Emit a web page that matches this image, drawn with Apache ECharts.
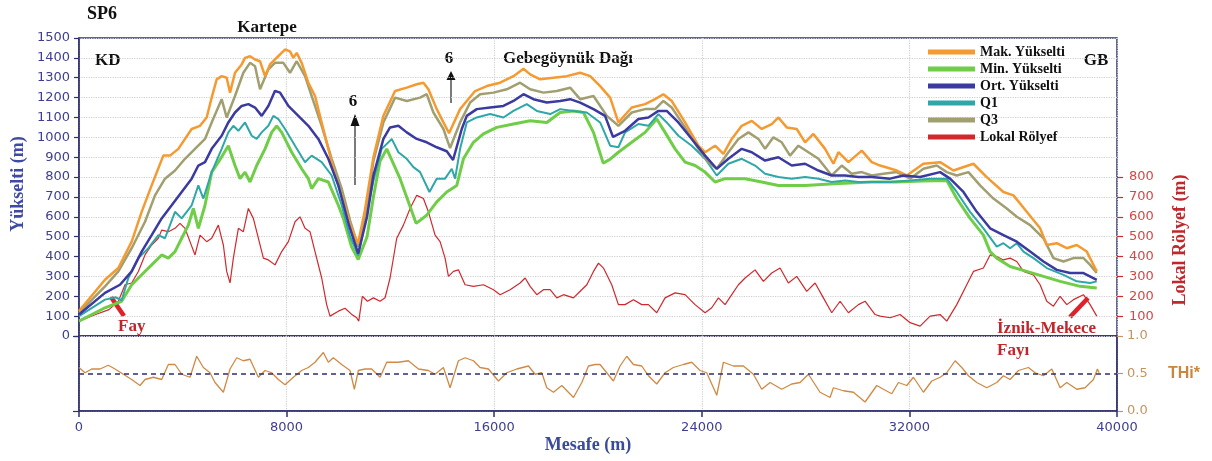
<!DOCTYPE html>
<html>
<head>
<meta charset="utf-8">
<script src="https://cdn.jsdelivr.net/npm/echarts@6/dist/echarts.min.js"></script>
<style>
html,body{margin:0;padding:0;background:#fff;}
#chart{width:1212px;height:461px;}
</style>
</head>
<body>
<div id="chart"></div>
<script>
// ---------- DATA (distance m, value) ----------
const xTicks = [0, 8000, 16000, 24000, 32000, 40000];
const reliefTicks = [100, 200, 300, 400, 500, 600, 700, 800];
const thiTicks = [0, 0.5, 1.0];
const seriesNames = ['Mak. Yükselti', 'Min. Yükselti', 'Ort. Yükselti', 'Q1', 'Q3', 'Lokal Rölyef'];

const maxElev = [[0,125],[1002,283],[1516,342],[2030,475],[2415,625],[2800,758],[3250,908],[3507,908],[3828,942],[4085,992],[4342,1042],[4663,1058],[4920,1100],[5113,1200],[5306,1292],[5498,1308],[5691,1300],[5820,1225],[6012,1325],[6269,1367],[6398,1400],[6591,1408],[6784,1392],[6976,1383],[7169,1308],[7361,1367],[7554,1392],[7747,1417],[7939,1442],[8132,1433],[8260,1400],[8389,1425],[8581,1375],[8838,1275],[9095,1208],[9352,1075],[9609,942],[9866,808],[10123,708],[10450,560],[10750,465],[11000,620],[11345,900],[11730,1108],[12180,1233],[12630,1250],[13015,1267],[13272,1275],[13465,1242],[13786,1142],[14043,1075],[14260,1021],[14686,1142],[14943,1183],[15264,1233],[15714,1258],[16228,1275],[16742,1308],[17128,1345],[17385,1317],[17770,1292],[18284,1300],[18798,1308],[19312,1325],[19697,1308],[20083,1258],[20468,1200],[20786,1075],[21300,1150],[21814,1167],[22199,1192],[22520,1217],[22841,1183],[23355,1075],[23869,958],[24126,925],[24512,958],[24833,917],[25154,992],[25539,1058],[25925,1083],[26310,1042],[26695,1067],[26952,1100],[27273,1050],[27659,1042],[27980,975],[28301,1017],[28751,942],[29072,867],[29265,925],[29650,875],[30164,933],[30549,875],[30871,858],[31513,833],[31898,808],[32540,867],[33183,875],[33697,833],[34467,867],[34981,800],[35623,725],[36009,708],[36523,625],[37037,542],[37294,458],[37679,467],[38064,442],[38450,458],[38835,425],[39220,325]];

const minElev = [[0,75],[1002,142],[1644,175],[2030,258],[2415,308],[2800,358],[3186,408],[3443,392],[3700,425],[3957,492],[4214,558],[4406,642],[4599,542],[4856,658],[5113,825],[5370,875],[5755,958],[6012,858],[6205,792],[6398,825],[6591,775],[6848,858],[7169,942],[7425,1025],[7618,1058],[7811,1025],[8196,925],[8581,842],[8838,792],[8966,742],[9223,792],[9609,775],[9994,658],[10187,592],[10500,450],[10760,385],[11100,500],[11345,700],[11600,880],[11859,942],[12373,792],[12990,567],[13400,608],[13786,675],[14172,725],[14557,758],[14814,892],[15200,975],[15585,1017],[16099,1050],[16742,1067],[17385,1083],[18027,1075],[18541,1125],[19055,1133],[19440,1125],[19826,1025],[20200,870],[20468,890],[20786,925],[21300,975],[21814,1025],[22264,1092],[22584,1025],[22970,942],[23355,875],[23741,858],[24126,825],[24512,775],[24897,792],[25668,792],[26310,775],[26952,758],[27980,758],[29265,767],[30549,775],[31500,775],[32500,780],[33440,783],[33825,692],[34339,592],[34852,508],[35110,425],[35366,392],[35880,350],[36523,325],[37166,300],[37808,275],[38579,250],[39220,242]];

const meanElev = [[0,108],[1002,217],[1580,258],[2030,325],[2415,425],[2800,508],[3186,592],[3571,658],[3957,725],[4342,792],[4599,858],[4856,875],[5113,942],[5498,1008],[5755,1075],[6012,1125],[6269,1158],[6526,1167],[6784,1150],[7040,1108],[7297,1158],[7554,1234],[7747,1225],[8068,1158],[8453,1108],[8838,1058],[9223,992],[9609,892],[9994,758],[10400,560],[10760,415],[11100,600],[11345,808],[11730,992],[11987,1050],[12308,1058],[12630,1025],[13015,992],[13400,975],[13786,950],[14172,930],[14414,886],[14750,1042],[14943,1108],[15328,1142],[15842,1150],[16356,1158],[16742,1183],[17128,1217],[17513,1192],[18027,1175],[18541,1183],[18927,1192],[19312,1175],[19826,1142],[20272,1108],[20580,1002],[21043,1033],[21557,1092],[21943,1100],[22328,1133],[22649,1133],[23098,1075],[23612,992],[24126,908],[24576,842],[25025,892],[25539,942],[25925,925],[26438,883],[26952,900],[27466,858],[27980,867],[28493,833],[29007,808],[29522,808],[30035,800],[30549,800],[31256,792],[31770,808],[32412,800],[33183,825],[33568,792],[34082,725],[34596,625],[35110,542],[35623,508],[36138,475],[36652,425],[37166,375],[37680,333],[38193,317],[38707,317],[39220,283]];

const q1Elev = [[0,100],[1002,183],[1400,195],[1644,180],[1901,292],[2287,392],[2672,442],[3058,508],[3314,492],[3700,625],[3957,592],[4342,658],[4599,758],[4792,692],[5113,825],[5498,942],[5755,1025],[5948,1058],[6141,1033],[6398,1075],[6655,1008],[6848,992],[7040,1025],[7297,1058],[7490,1108],[7682,1092],[7939,1042],[8325,958],[8710,875],[8966,908],[9352,875],[9737,808],[10123,658],[10450,500],[10760,405],[11345,780],[11666,942],[12051,992],[12308,925],[12630,892],[12887,850],[13144,825],[13504,725],[13786,792],[14107,792],[14365,842],[14493,792],[14686,942],[14943,1075],[15328,1100],[15842,1117],[16356,1100],[16742,1133],[17256,1167],[17642,1133],[18156,1117],[18541,1142],[19055,1133],[19569,1125],[20083,1075],[20468,958],[20786,950],[21043,1025],[21557,1067],[21943,1058],[22328,1117],[22649,1075],[23098,1008],[23612,958],[24126,892],[24576,808],[25025,867],[25539,892],[26053,858],[26438,817],[26952,800],[27466,792],[27980,800],[28493,792],[29007,775],[29522,783],[30035,775],[30549,775],[31256,775],[32027,783],[32798,792],[33440,792],[33825,725],[34339,625],[34852,542],[35366,450],[35623,467],[35880,442],[36138,467],[36395,425],[36780,392],[37294,342],[37937,308],[38450,275],[38964,267],[39220,275]];

const q3Elev = [[0,117],[1002,250],[1516,325],[2030,442],[2544,575],[2929,708],[3314,792],[3700,833],[4085,892],[4470,942],[4856,992],[5113,1075],[5498,1192],[5691,1100],[6012,1208],[6333,1325],[6591,1375],[6784,1358],[6976,1242],[7297,1342],[7554,1375],[7875,1375],[8132,1325],[8389,1383],[8710,1308],[8966,1208],[9352,1058],[9737,892],[10123,742],[10450,580],[10760,450],[11100,640],[11345,880],[11730,1075],[12180,1200],[12630,1183],[13144,1200],[13400,1217],[13657,1125],[14043,1042],[14300,946],[14686,1075],[15071,1175],[15457,1217],[15971,1225],[16485,1242],[16998,1275],[17385,1242],[17899,1225],[18413,1233],[18927,1250],[19312,1192],[19826,1208],[20340,1108],[20786,1058],[21300,1125],[21814,1142],[22199,1142],[22520,1183],[22841,1150],[23355,1050],[23869,942],[24255,875],[24576,842],[25025,925],[25411,992],[25796,1025],[26181,992],[26438,942],[26759,1000],[27080,975],[27401,908],[27723,958],[28108,925],[28493,892],[29007,808],[29393,858],[29778,817],[30164,825],[30549,808],[30999,817],[31513,825],[32027,792],[32540,842],[33054,858],[33440,825],[33825,808],[34275,825],[34724,758],[35238,692],[35752,642],[36138,600],[36652,558],[37166,492],[37551,392],[37937,375],[38322,392],[38707,392],[38964,358],[39220,317]];

const localRelief = [[0,75],[642,108],[1156,133],[1516,175],[1773,258],[2030,267],[2287,325],[2544,408],[2800,458],[3058,492],[3186,533],[3443,525],[3700,542],[3893,567],[4085,542],[4278,475],[4470,408],[4663,508],[4920,475],[5113,492],[5370,558],[5563,458],[5691,325],[5820,267],[5948,392],[6141,542],[6333,525],[6526,642],[6719,592],[6848,525],[7105,392],[7297,383],[7554,358],[7811,425],[8068,475],[8325,575],[8517,600],[8710,542],[8902,525],[9095,425],[9352,292],[9544,158],[9673,100],[9994,125],[10251,140],[10500,110],[10701,92],[10780,75],[10919,200],[11114,175],[11345,192],[11602,175],[11794,192],[11987,292],[12244,492],[12501,558],[12758,642],[13015,708],[13272,692],[13465,625],[13722,508],[13914,475],[14107,392],[14236,300],[14429,325],[14621,333],[14878,258],[15200,250],[15585,258],[15971,233],[16228,208],[16613,233],[16998,267],[17192,292],[17385,250],[17642,208],[17899,233],[18156,233],[18413,192],[18670,208],[19055,192],[19312,225],[19569,258],[19826,325],[20019,367],[20211,342],[20529,258],[20786,158],[21043,158],[21364,183],[21686,158],[21943,158],[22264,117],[22584,192],[22970,217],[23355,208],[23741,158],[24126,117],[24383,142],[24640,192],[24897,158],[25154,208],[25411,258],[25668,292],[26053,333],[26374,275],[26695,317],[27016,342],[27337,267],[27659,300],[28044,225],[28365,267],[28686,192],[29007,117],[29329,175],[29650,117],[30035,158],[30292,175],[30678,108],[30871,100],[31256,92],[31642,108],[32027,67],[32412,50],[32798,100],[33183,108],[33440,75],[33825,158],[34210,258],[34467,325],[34852,342],[35110,408],[35366,400],[35623,383],[35880,392],[36138,375],[36395,325],[36780,308],[37037,258],[37294,175],[37551,150],[37808,200],[38064,158],[38322,183],[38707,208],[38964,158],[39220,100]];

const thiIndex = [[0,0.58],[231,0.51],[488,0.56],[809,0.56],[1130,0.61],[1387,0.56],[1709,0.49],[2030,0.42],[2351,0.34],[2544,0.42],[2865,0.45],[3186,0.42],[3443,0.62],[3700,0.62],[3957,0.49],[4278,0.45],[4535,0.73],[4792,0.58],[5049,0.51],[5241,0.38],[5563,0.25],[5820,0.56],[6077,0.71],[6333,0.67],[6591,0.69],[6912,0.45],[7169,0.54],[7425,0.51],[7682,0.42],[7939,0.35],[8260,0.45],[8581,0.54],[8838,0.58],[9095,0.65],[9416,0.78],[9609,0.65],[9801,0.71],[10123,0.62],[10444,0.54],[10611,0.29],[10765,0.54],[11022,0.56],[11280,0.56],[11602,0.45],[11859,0.65],[12308,0.65],[12694,0.67],[13080,0.56],[13465,0.54],[13722,0.49],[14043,0.58],[14300,0.31],[14621,0.67],[14878,0.71],[15200,0.67],[15457,0.58],[15778,0.56],[16164,0.40],[16485,0.51],[16870,0.56],[17320,0.60],[17577,0.49],[17834,0.51],[18027,0.31],[18284,0.25],[18605,0.34],[19055,0.18],[19376,0.38],[19633,0.60],[19890,0.62],[20079,0.62],[20336,0.51],[20593,0.40],[20850,0.60],[21107,0.73],[21364,0.62],[21686,0.60],[21943,0.47],[22264,0.36],[22584,0.51],[22905,0.58],[23290,0.62],[23612,0.65],[23933,0.54],[24190,0.51],[24576,0.21],[24833,0.65],[25218,0.60],[25604,0.60],[25989,0.49],[26310,0.29],[26631,0.38],[27080,0.29],[27466,0.36],[27787,0.38],[28108,0.49],[28557,0.25],[28943,0.18],[29072,0.31],[29457,0.27],[29843,0.25],[30292,0.12],[30742,0.34],[30999,0.29],[31320,0.23],[31577,0.38],[31898,0.34],[32155,0.45],[32540,0.25],[32862,0.40],[33183,0.45],[33440,0.51],[33761,0.67],[34018,0.58],[34275,0.47],[34596,0.38],[34981,0.31],[35366,0.38],[35623,0.47],[35880,0.42],[36202,0.54],[36587,0.58],[36844,0.51],[37166,0.47],[37487,0.56],[37808,0.31],[38064,0.38],[38450,0.29],[38771,0.31],[39092,0.42],[39246,0.56],[39310,0.51]];

// ---------- STYLE ----------
const NAVY = '#2e2f6e';
const LABEL = '#3d3f8f';
const GRIDC = '#cfcfcf';
const RED = '#cf2a2e';
const TAN = '#c49463';
const colors = ['#f59a30', '#6fcd48', '#3a3aa0', '#2fa7a9', '#a19f70', '#d0282c'];
const SERIF = '"Liberation Serif", "Times New Roman", serif';
const SANS = '"DejaVu Sans", sans-serif';

const chart = echarts.init(document.getElementById('chart'), null, {renderer: 'canvas'});

const gridL = 79, gridR = 1212 - 1117;
function lineSeries(name, data, color, width, xi, yi, z) {
  return {
    name: name, type: 'line', data: data, xAxisIndex: xi, yAxisIndex: yi,
    showSymbol: false, symbol: 'none', color: color, z: z || 2,
    lineStyle: {color: color, width: width}, itemStyle: {color: color},
    animation: false, silent: true
  };
}

const txt = (text, x, y, opt) => Object.assign({
  type: 'text', x: x, y: y, silent: true,
  style: Object.assign({text: text, font: 'bold 17px ' + SERIF, fill: '#111',
    textAlign: 'left', textVerticalAlign: 'middle'}, (opt && opt.style) || {})
}, opt && opt.rotation !== undefined ? {rotation: opt.rotation} : {});

const plain = v => String(v);

const option = {
  backgroundColor: '#fff',
  animation: false,
  grid: [
    {left: gridL, right: gridR, top: 38, height: 298, show: true, borderColor: NAVY, borderWidth: 1.5, backgroundColor: 'transparent'},
    {left: gridL, right: gridR, top: 336, height: 75, show: true, borderColor: NAVY, borderWidth: 1.5, backgroundColor: 'transparent'}
  ],
  legend: {
    orient: 'vertical', left: 928, top: 45, padding: 0,
    itemWidth: 47, itemHeight: 5, itemGap: 3, icon: 'rect',
    data: seriesNames,
    textStyle: {fontFamily: SERIF, fontWeight: 'bold', fontSize: 14, color: '#111'}
  },
  xAxis: [
    {gridIndex: 0, type: 'value', min: 0, max: 40000, interval: 8000,
      axisLine: {show: false}, axisTick: {show: false}, axisLabel: {show: false},
      splitLine: {show: true, lineStyle: {color: GRIDC, type: 'dotted', width: 1.2}}},
    {gridIndex: 1, type: 'value', min: 0, max: 40000, interval: 8000,
      axisLine: {show: true, lineStyle: {color: NAVY, width: 1.5}},
      axisTick: {show: true, length: 6, lineStyle: {color: NAVY, width: 1.5}},
      axisLabel: {show: true, margin: 10, color: LABEL, fontFamily: SANS, fontSize: 13,
        customValues: xTicks, formatter: plain},
      splitLine: {show: true, lineStyle: {color: GRIDC, type: 'dotted', width: 1.2}}}
  ],
  yAxis: [
    {gridIndex: 0, type: 'value', min: 0, max: 1500, interval: 100, position: 'left',
      axisLine: {show: true, lineStyle: {color: NAVY, width: 1.5}},
      axisTick: {show: true, length: 5, lineStyle: {color: NAVY, width: 1.2}},
      axisLabel: {margin: 9, color: LABEL, fontFamily: SANS, fontSize: 13, formatter: plain},
      splitLine: {show: true, lineStyle: {color: GRIDC, type: 'dotted', width: 1.2}}},
    {gridIndex: 0, type: 'value', min: 0, max: 1500, interval: 100, position: 'right',
      axisLine: {show: false},
      axisTick: {show: true, length: 6, lineStyle: {color: RED, width: 1.2}, customValues: reliefTicks},
      axisLabel: {margin: 12, color: '#d24848', fontFamily: SANS, fontSize: 13, customValues: reliefTicks,
        formatter: v => (v >= 100 && v <= 800) ? String(v) : ''},
      splitLine: {show: false}},
    {gridIndex: 1, type: 'value', min: 0, max: 1, interval: 0.25, position: 'left',
      axisLine: {show: true, lineStyle: {color: NAVY, width: 1.5}},
      axisTick: {show: true, length: 6, lineStyle: {color: NAVY, width: 1.2}, customValues: [0, 1]},
      axisLabel: {show: false},
      splitLine: {show: true, lineStyle: {color: GRIDC, type: 'dotted', width: 1.2}}},
    {gridIndex: 1, type: 'value', min: 0, max: 1, interval: 0.5, position: 'right',
      axisLine: {show: true, lineStyle: {color: NAVY, width: 1.5}},
      axisTick: {show: true, length: 6, lineStyle: {color: TAN, width: 1.2}, customValues: thiTicks},
      axisLabel: {margin: 10, color: TAN, fontFamily: SANS, fontSize: 13, customValues: thiTicks,
        formatter: v => v.toFixed(1)},
      splitLine: {show: false}}
  ],
  series: [
    lineSeries(seriesNames[5], localRelief, colors[5], 1.2, 0, 1, 2),
    lineSeries(seriesNames[1], minElev, colors[1], 3, 0, 0, 3),
    lineSeries(seriesNames[3], q1Elev, colors[3], 2, 0, 0, 4),
    lineSeries(seriesNames[4], q3Elev, colors[4], 2.5, 0, 0, 4),
    lineSeries(seriesNames[0], maxElev, colors[0], 2.5, 0, 0, 5),
    lineSeries(seriesNames[2], meanElev, colors[2], 2.5, 0, 0, 6),
    Object.assign(lineSeries('THi*', thiIndex, '#d08a45', 1.3, 1, 2, 3), {
      markLine: {silent: true, symbol: 'none', label: {show: false},
        lineStyle: {color: NAVY, type: [5, 4], width: 1.6},
        data: [{yAxis: 0.5}]}
    })
  ],
  graphic: [
    txt('SP6', 87, 14, {style: {font: 'bold 18px ' + SERIF}}),
    txt('Kartepe', 267, 28, {style: {textAlign: 'center'}}),
    txt('KD', 95, 61),
    txt('GB', 1096, 61, {style: {textAlign: 'center'}}),
    txt('Gebegöynük Dağı', 568, 59, {style: {textAlign: 'center'}}),
    txt('6', 353, 102, {style: {textAlign: 'center'}}),
    txt('6', 449, 59, {style: {textAlign: 'center'}}),
    {type: 'line', silent: true, shape: {x1: 355, y1: 185, x2: 355, y2: 124}, style: {stroke: '#222', lineWidth: 1.2}},
    {type: 'polygon', silent: true, shape: {points: [[355, 114], [350.5, 126], [359.5, 126]]}, style: {fill: '#111'}},
    {type: 'line', silent: true, shape: {x1: 451, y1: 103, x2: 451, y2: 77}, style: {stroke: '#222', lineWidth: 1.2}},
    {type: 'polygon', silent: true, shape: {points: [[451, 71], [446.5, 80], [455.5, 80]]}, style: {fill: '#111'}},
    txt('Fay', 118, 327, {style: {fill: '#c0272d'}}),
    {type: 'line', silent: true, shape: {x1: 111, y1: 297, x2: 124, y2: 316}, style: {stroke: '#e0202a', lineWidth: 4.5}},
    txt('İznik-Mekece', 997, 329, {style: {fill: '#c0272d'}}),
    txt('Fayı', 997, 351, {style: {fill: '#c0272d'}}),
    {type: 'line', silent: true, shape: {x1: 1070, y1: 317, x2: 1088, y2: 298}, style: {stroke: '#e0202a', lineWidth: 4.5}},
    {type: 'text', silent: true, x: 18, y: 184, rotation: Math.PI / 2,
      style: {text: 'Yükselti (m)', font: 'bold 18px ' + SERIF, fill: '#3f49a6', textAlign: 'center', textVerticalAlign: 'middle'}},
    {type: 'text', silent: true, x: 1180, y: 240, rotation: Math.PI / 2,
      style: {text: 'Lokal Rölyef (m)', font: 'bold 18px ' + SERIF, fill: '#c0282c', textAlign: 'center', textVerticalAlign: 'middle'}},
    txt('THi*', 1184, 374, {style: {textAlign: 'center', font: 'bold 16px "Liberation Sans", Arial, sans-serif', fill: '#c9873e'}}),
    txt('Mesafe (m)', 588, 445, {style: {textAlign: 'center', font: 'bold 18px ' + SERIF, fill: '#3a4a9c'}})
  ]
};
chart.setOption(option);
</script>
</body>
</html>
